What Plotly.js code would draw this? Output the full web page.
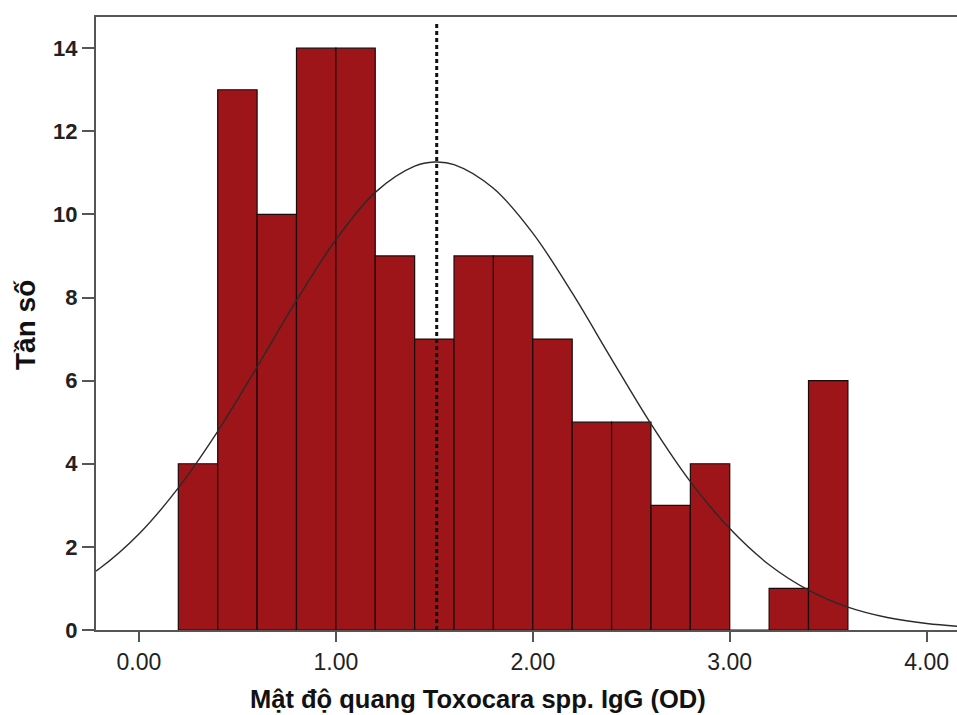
<!DOCTYPE html>
<html>
<head>
<meta charset="utf-8">
<script src="https://cdn.plot.ly/plotly-3.0.1.min.js"></script>
<style>html,body{margin:0;padding:0;background:#fff;}#chart{width:957px;height:715px;}</style>
</head>
<body>
<div id="chart"></div>
<script>
// Histogram bins (centers) and frequencies
const binCenters = [0.3,0.5,0.7,0.9,1.1,1.3,1.5,1.7,1.9,2.1,2.3,2.5,2.7,2.9,3.1,3.3,3.5];
const frequencies = [4,13,10,14,14,9,7,9,9,7,5,5,3,4,0,1,6];
// Fitted normal curve
const curveX = [-0.4,-0.2,0.0,0.2,0.4,0.6,0.8,1.0,1.2,1.4,1.5,1.6,1.8,2.0,2.2,2.4,2.6,2.8,3.0,3.2,3.4,3.6,3.8,4.0,4.2,4.4];
const curveY = [0.90,1.48,2.31,3.42,4.78,6.33,7.93,9.39,10.53,11.16,11.26,11.20,10.63,9.55,8.11,6.52,4.96,3.57,2.44,1.57,0.96,0.55,0.30,0.155,0.077,0.035];
// Mean line
const meanX = [1.512, 1.512];
const meanY = [0, 14.58];
const xTickVals = [0,1,2,3,4];
const xTickText = ['0.00','1.00','2.00','3.00','4.00'];
const yTickVals = [0,2,4,6,8,10,12,14];
const xTitle = 'Mật độ quang Toxocara spp. IgG (OD)';
const yTitle = 'Tần số';

const traces = [
  {type:'bar', x:binCenters, y:frequencies, width:0.2,
   marker:{color:'#9d1419', line:{color:'#1a0a0a', width:1.2}}, hoverinfo:'x+y'},
  {type:'scatter', mode:'lines', x:curveX, y:curveY,
   line:{color:'#2b2b2b', width:1.4, shape:'spline', smoothing:1}},
  {type:'scatter', mode:'lines', x:meanX, y:meanY,
   line:{color:'#111', width:3, dash:'4px,3px'}}
];

const layout = {
  width:957, height:715,
  margin:{l:96, r:0, t:17, b:85},
  paper_bgcolor:'#fff', plot_bgcolor:'#fff',
  showlegend:false, bargap:0,
  font:{family:'Liberation Sans, Arial, sans-serif', color:'#222'},
  xaxis:{range:[-0.218,4.154], tickvals:xTickVals, ticktext:xTickText,
    showgrid:false, zeroline:false, showline:true, mirror:true,
    linecolor:'#555', linewidth:2, ticks:'outside', ticklen:10, tickwidth:2, tickcolor:'#555',
    tickfont:{size:23, color:'#222'}},
  yaxis:{range:[0,14.75], tickvals:yTickVals,
    showgrid:false, zeroline:false, showline:true,
    linecolor:'#555', linewidth:2, ticks:'outside', ticklen:12, tickwidth:2, tickcolor:'#555',
    tickfont:{size:22, weight:'bold', color:'#222'}},
  annotations:[
    {text:xTitle, xref:'paper', yref:'paper', x:(478-96)/861, y:(630-699)/613,
     xanchor:'center', yanchor:'middle', showarrow:false,
     font:{size:25.5, weight:'bold', color:'#111'}},
    {text:yTitle, xref:'paper', yref:'paper', x:(25-96)/861, y:(630-325)/613,
     xanchor:'center', yanchor:'middle', showarrow:false, textangle:-90,
     font:{size:28, weight:'bold', color:'#111'}}
  ]
};
Plotly.newPlot('chart', traces, layout, {displayModeBar:false, staticPlot:true});
</script>
</body>
</html>
